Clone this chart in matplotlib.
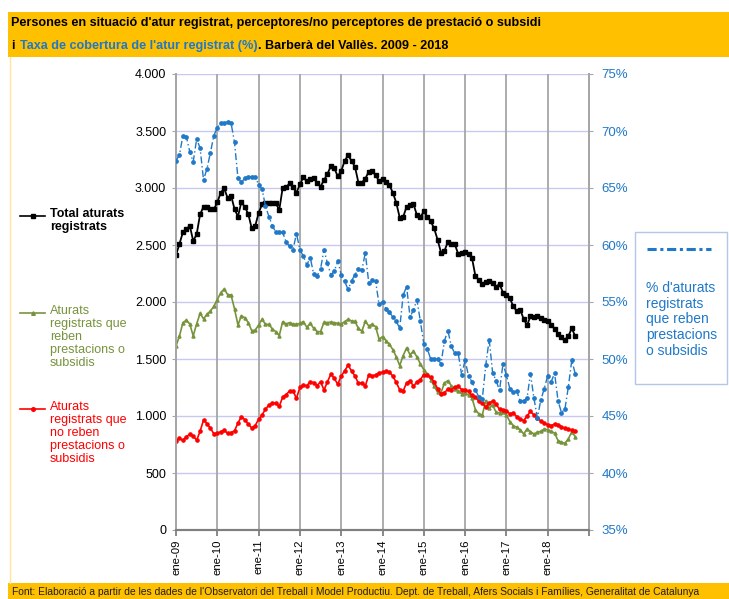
import numpy as np
import matplotlib.pyplot as plt
from matplotlib.patches import Rectangle
from matplotlib.lines import Line2D

plt.rcParams['font.family'] = ['Liberation Sans', 'DejaVu Sans']

# monthly data, ene-2009 .. set-2018
total = [2412, 2509, 2611, 2637, 2670, 2535, 2594, 2769, 2836, 2836, 2813, 2813,
         2874, 2959, 2997, 2912, 2933, 2816, 2749, 2877, 2833, 2772, 2646, 2665,
         2780, 2857, 2871, 2871, 2871, 2866, 2807, 3003, 3006, 3041, 3006, 2959,
         3032, 3094, 3061, 3076, 3085, 3047, 3012, 3070, 3123, 3193, 3173, 3102,
         3149, 3237, 3289, 3237, 3187, 3047, 3047, 3082, 3143, 3149, 3111, 3061,
         3082, 3056, 3026, 2959, 2871, 2740, 2745, 2837, 2847, 2858, 2763, 2743,
         2795, 2750, 2708, 2646, 2547, 2434, 2448, 2528, 2508, 2507, 2421, 2434,
         2435, 2424, 2386, 2228, 2195, 2160, 2172, 2183, 2170, 2132, 2159, 2083,
         2062, 2033, 1962, 1920, 1932, 1853, 1794, 1876, 1867, 1876, 1859, 1844,
         1829, 1800, 1765, 1721, 1690, 1670, 1700, 1770, 1698]

amb_prest = [1614, 1700, 1819, 1840, 1807, 1703, 1808, 1900, 1852, 1893, 1920, 1963,
             2020, 2082, 2114, 2065, 2061, 1940, 1798, 1880, 1861, 1820, 1749, 1752,
             1798, 1848, 1804, 1804, 1763, 1740, 1705, 1828, 1807, 1819, 1807, 1804,
             1813, 1828, 1778, 1813, 1769, 1740, 1740, 1822, 1819, 1824, 1819, 1813,
             1807, 1828, 1848, 1834, 1830, 1768, 1744, 1830, 1790, 1804, 1784, 1673,
             1696, 1662, 1630, 1582, 1520, 1442, 1530, 1597, 1538, 1567, 1519, 1458,
             1405, 1370, 1320, 1263, 1208, 1205, 1290, 1310, 1265, 1240, 1223, 1194,
             1200, 1185, 1156, 1056, 1018, 1009, 1135, 1068, 1097, 1032, 1027, 1032,
             1009, 951, 915, 901, 880, 842, 886, 863, 842, 857, 866, 886,
             880, 865, 850, 785, 770, 760, 800, 860, 820]

sense_prest = [784, 804, 787, 818, 840, 825, 787, 866, 965, 932, 892, 845,
               848, 862, 874, 848, 855, 870, 938, 994, 968, 928, 896, 916,
               971, 1009, 1060, 1096, 1111, 1111, 1085, 1167, 1187, 1220, 1219, 1155,
               1251, 1272, 1266, 1301, 1292, 1266, 1301, 1228, 1300, 1368, 1330, 1278,
               1351, 1395, 1447, 1395, 1351, 1287, 1292, 1263, 1360, 1351, 1360, 1380,
               1383, 1392, 1385, 1350, 1295, 1230, 1220, 1290, 1310, 1260, 1300, 1320,
               1363, 1358, 1340, 1300, 1240, 1195, 1205, 1235, 1230, 1253, 1260, 1232,
               1230, 1215, 1180, 1165, 1130, 1110, 1080, 1115, 1130, 1105, 1058, 1055,
               1045, 1020, 1025, 995, 970, 960, 1000, 1040, 1010, 985, 955, 935,
               925, 915, 930, 925, 905, 893, 885, 876, 870]

cobertura = [67.4, 67.9, 69.6, 69.5, 68.2, 67.3, 69.3, 68.5, 65.7, 66.7, 68.1, 69.6,
             70.3, 70.7, 70.7, 70.8, 70.7, 69.0, 65.85, 65.5, 65.85, 66.0, 66.0, 66.0,
             65.3, 64.9, 63.4, 62.5, 61.7, 61.1, 61.1, 61.1, 60.25, 59.9, 59.6, 61.0,
             59.6, 59.0, 58.25, 58.9, 57.45, 57.3, 57.9, 59.6, 58.4, 57.4, 57.7, 58.6,
             57.4, 56.8, 56.1, 56.85, 57.4, 57.9, 57.8, 59.3, 56.7, 56.9, 56.8, 54.8,
             55.0, 54.4, 54.1, 53.7, 53.3, 52.7, 55.6, 56.35, 53.7, 54.3, 55.2, 53.3,
             51.35, 50.9, 50.0, 50.0, 50.0, 49.6, 51.6, 52.5, 51.1, 50.5, 50.5, 48.6,
             49.9, 48.5, 48.0, 47.3, 46.65, 46.5, 49.45, 51.7, 48.8, 48.1, 47.25, 49.55,
             48.6, 47.4, 47.1, 47.2, 46.3, 46.3, 46.6, 48.7, 46.55, 44.85, 46.4, 47.4,
             48.55, 48.0, 48.75, 46.35, 45.3, 45.6, 47.55, 49.9, 48.7]

anys = ['ene-09', 'ene-10', 'ene-11', 'ene-12', 'ene-13',
        'ene-14', 'ene-15', 'ene-16', 'ene-17', 'ene-18']

W, H = 729, 599
BLACK = '#000000'
OLIVE = '#77933C'
RED = '#FF0000'
BLUE = '#1F78C8'
ORANGE = '#FFC000'


def fx(px):
    return px / W


def fy(py):
    return 1 - py / H


fig = plt.figure(figsize=(W / 100, H / 100), dpi=100)

# header and footer bands
fig.patches.append(Rectangle((fx(8), fy(57)), 1 - fx(8), 45 / H, transform=fig.transFigure,
                             facecolor=ORANGE, edgecolor='none', zorder=0))
fig.patches.append(Rectangle((fx(8), 0), 1 - fx(8), 16 / H, transform=fig.transFigure,
                             facecolor=ORANGE, edgecolor='none', zorder=0))
fig.lines.append(Line2D([fx(10), fx(10)], [fy(583), fy(57)], transform=fig.transFigure,
                        color='#FFE699', lw=1))

tfont = dict(fontsize=9.1, fontweight='bold')
fig.text(fx(11), fy(23), "Persones en situació d'atur registrat, perceptores/no perceptores de prestació o subsidi",
         va='center', ha='left', color=BLACK, **tfont)
parts = [("i", BLACK), ("Taxa de cobertura de l'atur registrat (%)", BLUE),
         (". Barberà del Vallès. 2009 - 2018", BLACK)]
fig.canvas.draw()
rend = fig.canvas.get_renderer()
xpos = fx(11)
for txt, col in parts:
    t = fig.text(xpos, fy(46), txt, va='center', ha='left', color=col, **tfont)
    bb = t.get_window_extent(rend)
    xpos = bb.x1 / W
    if txt == "i":
        xpos += 6 / W

fig.text(fx(12), fy(592), "Font: Elaboració a partir de les dades de l'Observatori del Treball i Model Productiu. "
         "Dept. de Treball, Afers Socials i Famílies, Generalitat de Catalunya",
         va='center', ha='left', fontsize=7.4, color='#202020')

# main axes
ax = fig.add_axes([fx(176), fy(530), (589 - 176) / W, (530 - 74) / H])
ax2 = ax.twinx()
x = np.arange(len(total))

ax.set_xlim(0, 120)
ax.set_ylim(0, 4000)
ax2.set_ylim(35, 75)

ax.set_yticks(np.arange(0, 4001, 500))
ax.set_yticklabels([f"{v:,}".replace(',', '.') for v in range(0, 4001, 500)])
ax2.set_yticks(np.arange(35, 76, 5))
ax2.set_yticklabels([f"{v}%" for v in range(35, 76, 5)])

ax.set_xticks(np.arange(0, 120, 12))
ax.set_xticklabels(anys, rotation=90)
ax.set_xticks([120], minor=True)

for v in range(500, 4001, 500):
    ax.axhline(v, color='#C8C8F0', lw=1, zorder=1)
for m in range(12, 121, 12):
    ax.axvline(m, color='#A6A6A6', lw=1.3, zorder=1)

for a in (ax, ax2):
    a.spines['top'].set_visible(False)
    a.spines['left'].set_color('#A6A6A6')
    a.spines['right'].set_color('#A6A6A6')
    a.spines['left'].set_linewidth(1.3)
    a.spines['right'].set_linewidth(1.3)
    a.spines['bottom'].set_color('#7F7F7F')
    a.spines['bottom'].set_linewidth(1.5)

ax.tick_params(axis='y', labelsize=9, colors='#A6A6A6', labelcolor=BLACK, length=3, pad=4)
ax2.tick_params(axis='y', labelsize=9.5, colors='#A6A6A6', labelcolor=BLUE, length=3, pad=6)
ax.tick_params(axis='x', which='both', labelsize=8.2, colors='#7F7F7F', labelcolor=BLACK,
               length=4, width=1.3, pad=3)

ax.plot(x, total, color=BLACK, lw=1.3, marker='s', ms=2.6, zorder=5)
ax.plot(x, amb_prest, color=OLIVE, lw=1.2, marker='^', ms=2.2, zorder=4)
ax.plot(x, sense_prest, color=RED, lw=1.2, marker='o', ms=2.3, zorder=4)
ax2.plot(x, cobertura, color=BLUE, lw=1, ls=(0, (5, 2, 1, 2)), marker='o', ms=2.4, zorder=5)

# left legend
leg = [(216, "Total aturats\nregistrats", BLACK, 's', 'bold'),
       (313, "Aturats\nregistrats que\nreben\nprestacions o\nsubsidis", OLIVE, '^', 'normal'),
       (409, "Aturats\nregistrats que\nno reben\nprestacions o\nsubsidis", RED, 'o', 'normal')]
for ly, txt, col, mk, wt in leg:
    fig.lines.append(Line2D([fx(20), fx(45)], [fy(ly), fy(ly)], transform=fig.transFigure,
                            color=col, lw=1.2))
    fig.lines.append(Line2D([fx(33)], [fy(ly)], transform=fig.transFigure, color=col,
                            marker=mk, ms=2.6, lw=0))
    fig.text(fx(50), fy(ly - 8), txt, va='top', ha='left', fontsize=9, color=col,
             fontweight=wt, linespacing=1.12)

# right legend
fig.patches.append(Rectangle((fx(635), fy(384)), (727 - 635) / W, (384 - 232) / H,
                             transform=fig.transFigure, facecolor='white',
                             edgecolor='#B4C7E7', lw=1))
fig.lines.append(Line2D([fx(647), fx(711)], [fy(249), fy(249)], transform=fig.transFigure,
                        color=BLUE, lw=2.2, ls=(0, (3, 1.2, 1, 1.2))))
fig.text(fx(646), fy(281), "% d'aturats\nregistrats\nque reben\nprestacions\no subsidis",
         va='top', ha='left', fontsize=10, color=BLUE, linespacing=1.15)

fig.savefig('out.png', dpi=100)
